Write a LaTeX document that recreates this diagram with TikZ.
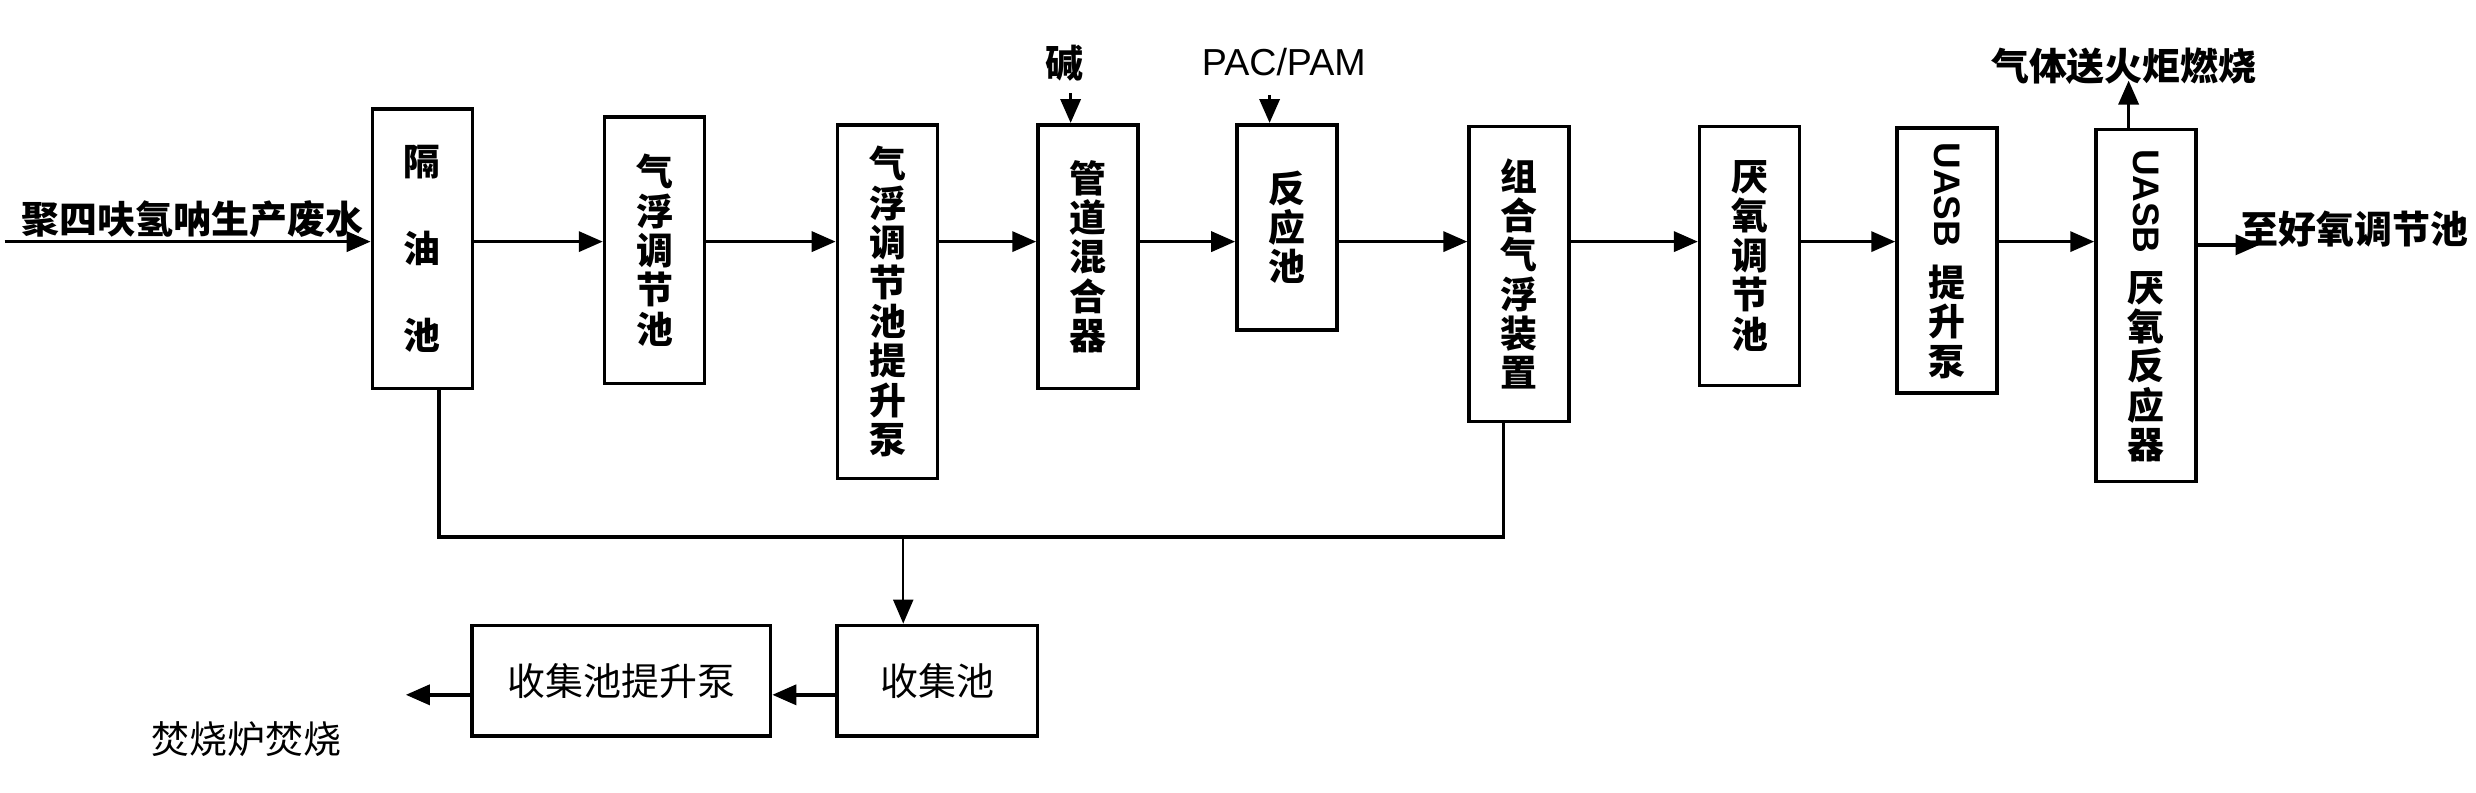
\documentclass[tikz,border=0pt]{standalone}
\usepackage{fontspec}
\usepackage{graphicx}
\setsansfont{Liberation Sans}
\newfontfamily\cjk{Noto Sans CJK SC}
\usetikzlibrary{arrows.meta}
\tikzset{
  tank/.style={draw,line width=1pt,minimum width=1cm,inner sep=0pt,align=center,
    font=\cjk\bfseries\fontsize{10.5}{11.2}\selectfont},
  flow/.style={line width=1pt,-{Triangle[length=2.4mm,width=2mm]}},
  lbl/.style={inner sep=0pt,font=\cjk\bfseries\fontsize{10.8}{12}\selectfont}
}
\begin{document}
\begin{tikzpicture}[x=0.01579cm,y=-0.01579cm]
  \useasboundingbox (0,0) rectangle (1568,502);
  % main line
  \node[tank,minimum height=2.795cm] (oilsep) at (267.5,157.5) {隔\\[13.5pt]油\\[13.5pt]池};
  \node[tank,minimum height=2.669cm] (dafeq) at (414.5,158.5) {气\\浮\\调\\节\\池};
  \node[tank,minimum height=3.537cm] (dafpump) at (562,191) {气\\浮\\调\\节\\池\\提\\升\\泵};
  \node[tank,minimum height=2.637cm] (mixer) at (689,162.5) {管\\道\\混\\合\\器};
  \node[tank,minimum height=2.053cm] (react) at (815,144) {反\\应\\池};
  \node[tank,minimum height=2.953cm] (daf) at (962,173.5) {组\\合\\气\\浮\\装\\置};
  \node[tank,minimum height=2.590cm] (anaeq) at (1108,162) {厌\\氧\\调\\节\\池};
  \node[tank,minimum height=2.653cm] (uasbpump) at (1233,165) {\rotatebox{-90}{\sffamily UASB}\\[4pt]提\\升\\泵};
  \node[tank,minimum height=3.521cm] (uasb) at (1359,193.5) {\rotatebox{-90}{\sffamily UASB}\\[4pt]厌\\氧\\反\\应\\器};
  % sludge line
  \node[tank,minimum width=2.005cm,minimum height=1.105cm,font=\cjk\fontsize{10.8}{12}\selectfont] (coll) at (593.5,431) {收集池};
  \node[tank,minimum width=2.984cm,minimum height=1.105cm,font=\cjk\fontsize{10.8}{12}\selectfont] (collpump) at (393.5,431) {收集池提升泵};

  \node[lbl] (waste) at (122,139) {聚四呋氢呐生产废水};
  \node[lbl] (alkali) at (674,40) {碱};
  \node[lbl,font=\sffamily\fontsize{10.7}{12}\selectfont] (pacpam) at (813,39) {PAC/PAM};
  \node[lbl] (torch) at (1345,42) {气体送火炬燃烧};
  \node[lbl] (aerobic) at (1491,145) {至好氧调节池};
  \node[lbl,font=\cjk\fontsize{10.8}{12}\selectfont] (burn) at (156,468) {焚烧炉焚烧};

  \coordinate (src) at (3,153);
  \coordinate (out) at (1431,155);
  \coordinate (gas) at (1348,51);
  \coordinate (alk) at (678,59);
  \coordinate (pac) at (804,60);
  \coordinate (d1) at (278,340);
  \coordinate (d2) at (952,340);
  \coordinate (d3) at (572,340);
  \coordinate (btm) at (0,440);
  \coordinate (inc) at (257,440);

  \draw[flow] (src) -- (oilsep.west |- src);
  \draw[flow] (oilsep.east |- src) -- (dafeq.west |- src);
  \draw[flow] (dafeq.east |- src) -- (dafpump.west |- src);
  \draw[flow] (dafpump.east |- src) -- (mixer.west |- src);
  \draw[flow] (mixer.east |- src) -- (react.west |- src);
  \draw[flow] (react.east |- src) -- (daf.west |- src);
  \draw[flow] (daf.east |- src) -- (anaeq.west |- src);
  \draw[flow] (anaeq.east |- src) -- (uasbpump.west |- src);
  \draw[flow] (uasbpump.east |- src) -- (uasb.west |- src);
  \draw[flow] (uasb.east |- out) -- (out);
  \draw[flow] (uasb.north -| gas) -- (gas);
  \draw[flow] (alk) -- (mixer.north -| alk);
  \draw[flow] (pac) -- (react.north -| pac);

  \draw[line width=1pt] (oilsep.south -| d1) -- (d1) -- (d2) -- (daf.south -| d2);
  \draw[flow,line width=.6pt] (d3) -- (coll.north -| d3);
  \draw[flow] (coll.west |- btm) -- (collpump.east |- btm);
  \draw[flow] (collpump.west |- inc) -- (inc);
\end{tikzpicture}
\end{document}
